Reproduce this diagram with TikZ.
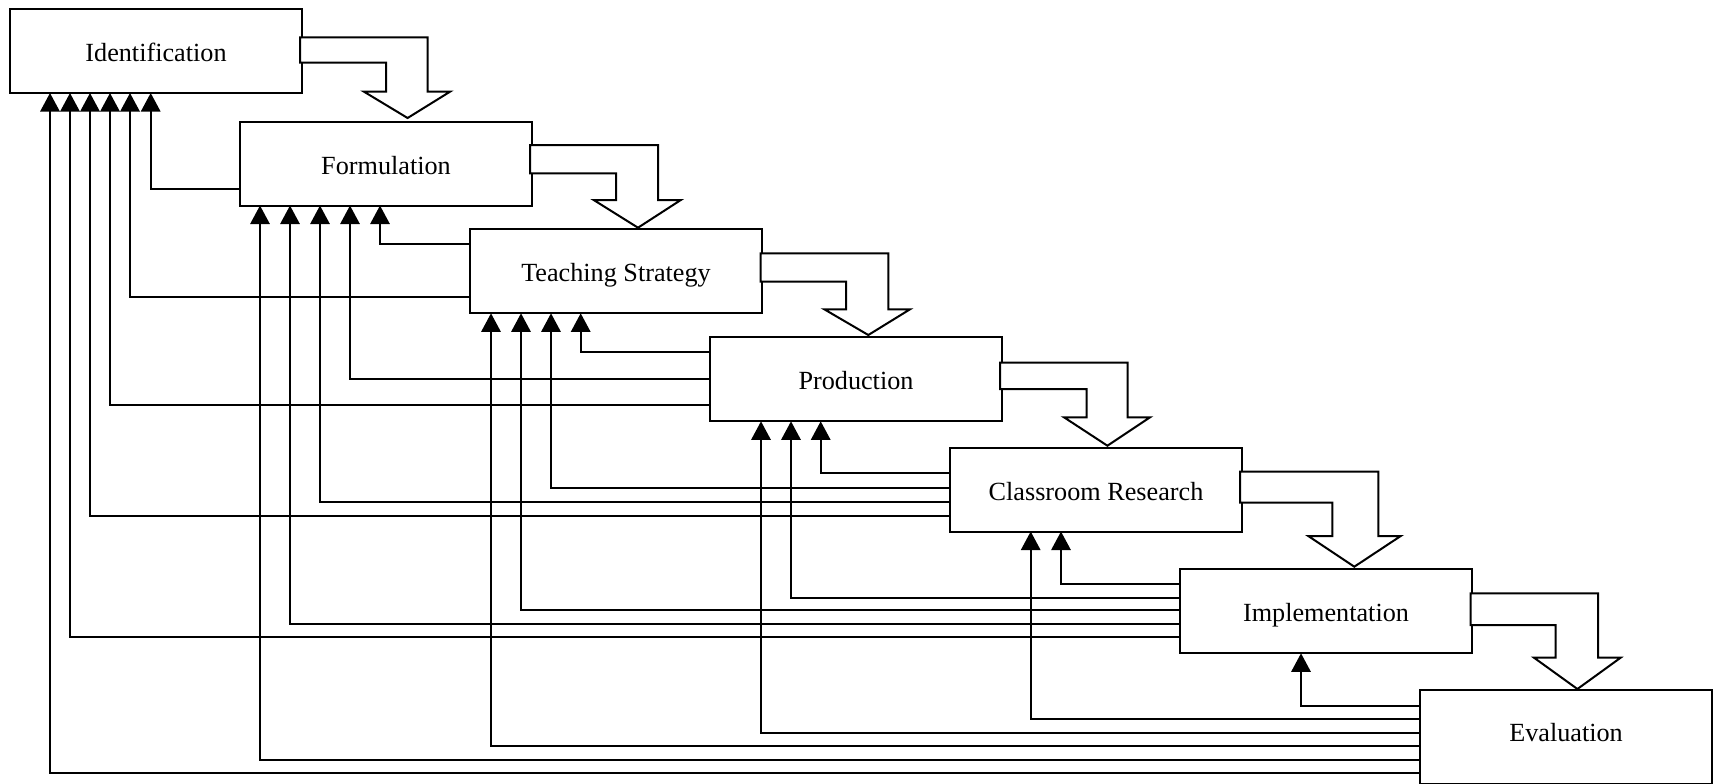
\documentclass[tikz,border=0pt]{standalone}
\usepackage{fontspec}
\setmainfont{Liberation Serif}
\usetikzlibrary{arrows.meta,calc}
\begin{document}
\begin{tikzpicture}[x=0.5pt,y=-0.5pt,
  box/.style={draw, line width=1pt, rectangle, minimum width=146pt, minimum height=42pt,
    anchor=north west, inner sep=0pt, outer sep=0pt, fill=white,
    font=\fontsize{13.1pt}{15pt}\selectfont, text height=10.5pt, text depth=0pt},
  fb/.style={draw, line width=1pt, -{Triangle[width=9.7pt,length=9.3pt]}},
  blk/.style={draw, fill=white, line width=1pt, line join=miter}
]
\useasboundingbox (0,0) rectangle (1717,783);
\clip (0,0) rectangle (1717,783);

% boxes
\node[box] (I) at (10,9) {Identification};
\node[box] (F) at (240,121.5) {Formulation};
\node[box] (T) at (470,229.3) {Teaching Strategy};
\node[box] (P) at (710,337.3) {Production};
\node[box] (C) at (950,447.5) {Classroom Research};
\node[box] (M) at (1180,569.3) {Implementation};
\node[box, minimum height=47pt, text height=4.7pt] (E) at (1420,690) {Evaluation};

% feedback into Identification
\draw[fb] ($(F.north west)+(0,67.5)$) -| ($(I.south west)+(140.7,0)$);
\draw[fb] ($(T.north west)+(0,68)$)   -| ($(I.south west)+(120,0)$);
\draw[fb] ($(P.north west)+(0,68)$)   -| ($(I.south west)+(100,0)$);
\draw[fb] ($(C.north west)+(0,68.2)$) -| ($(I.south west)+(80,0)$);
\draw[fb] ($(M.north west)+(0,68)$)   -| ($(I.south west)+(60,0)$);
\draw[fb] ($(E.north west)+(0,83.3)$) -| ($(I.south west)+(40,0)$);
% feedback into Formulation
\draw[fb] ($(T.north west)+(0,14.7)$) -| ($(F.south west)+(140,0)$);
\draw[fb] ($(P.north west)+(0,42)$)   -| ($(F.south west)+(110,0)$);
\draw[fb] ($(C.north west)+(0,54.2)$) -| ($(F.south west)+(80,0)$);
\draw[fb] ($(M.north west)+(0,54.2)$) -| ($(F.south west)+(50,0)$);
\draw[fb] ($(E.north west)+(0,70)$)   -| ($(F.south west)+(20,0)$);
% feedback into Teaching Strategy
\draw[fb] ($(P.north west)+(0,14.2)$) -| ($(T.south west)+(110.7,0)$);
\draw[fb] ($(C.north west)+(0,40)$)   -| ($(T.south west)+(81,0)$);
\draw[fb] ($(M.north west)+(0,40.4)$) -| ($(T.south west)+(51,0)$);
\draw[fb] ($(E.north west)+(0,55.7)$) -| ($(T.south west)+(21,0)$);
% feedback into Production
\draw[fb] ($(C.north west)+(0,25.7)$) -| ($(P.south west)+(110.7,0)$);
\draw[fb] ($(M.north west)+(0,28.2)$) -| ($(P.south west)+(81,0)$);
\draw[fb] ($(E.north west)+(0,43.3)$) -| ($(P.south west)+(51,0)$);
% feedback into Classroom Research
\draw[fb] ($(M.north west)+(0,14.2)$) -| ($(C.south west)+(111,0)$);
\draw[fb] ($(E.north west)+(0,29.3)$) -| ($(C.south west)+(80.7,0)$);
% feedback into Implementation
\draw[fb] ($(E.north west)+(0,15.7)$) -| ($(M.south west)+(121,0)$);

% hollow block arrows
\path[blk] (300,37.3) -- (427.7,37.3) -- (427.7,91.7) -- (450,91.7) -- (407.6,118)
  -- (364,91.7) -- (386,91.7) -- (386,62.7) -- (300,62.7) -- cycle;
\path[blk] (530,145) -- (658,145) -- (658,200) -- (680.8,200) -- (638,227.7)
  -- (593.7,200) -- (616,200) -- (616,173.3) -- (530,173.3) -- cycle;
\path[blk] (760.7,253.3) -- (888.3,253.3) -- (888.3,309.3) -- (910,309.3) -- (868.3,335)
  -- (824.3,309.3) -- (846,309.3) -- (846,281.7) -- (760.7,281.7) -- cycle;
\path[blk] (1000,362.7) -- (1127.7,362.7) -- (1127.7,417.3) -- (1150,417.3) -- (1107.4,445.7)
  -- (1064,417.3) -- (1086.5,417.3) -- (1086.5,389) -- (1000,389) -- cycle;
\path[blk] (1240,471.7) -- (1378.3,471.7) -- (1378.3,536) -- (1400.7,536) -- (1354.3,566.7)
  -- (1308.3,536) -- (1332.3,536) -- (1332.3,502.7) -- (1240,502.7) -- cycle;
\path[blk] (1470.7,593.3) -- (1598,593.3) -- (1598,657.7) -- (1620.6,657.7) -- (1577.4,689)
  -- (1534,657.7) -- (1555.5,657.7) -- (1555.5,625) -- (1470.7,625) -- cycle;
\end{tikzpicture}
\end{document}
